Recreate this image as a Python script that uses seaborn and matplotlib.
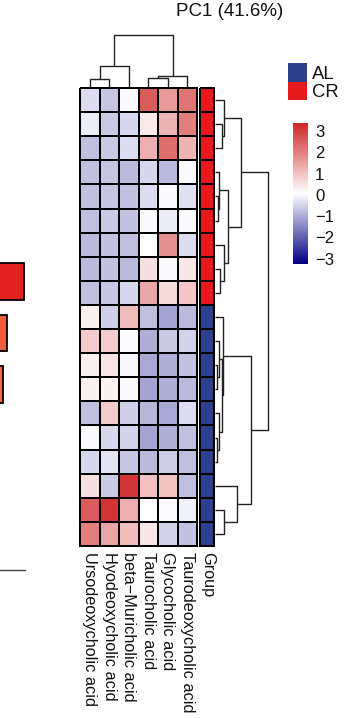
import numpy as np
import pandas as pd
import matplotlib
matplotlib.use("Agg")
import matplotlib.pyplot as plt
import seaborn as sns
from matplotlib.colors import LinearSegmentedColormap, ListedColormap

# ---------------- data ----------------
compounds = ["Ursodeoxycholic acid", "Hyodeoxycholic acid", "beta\u2212Muricholic acid",
             "Taurocholic acid", "Glycocholic acid", "Taurodeoxycholic acid"]

ursodeoxycholic = [-0.39, -0.17, -0.77, -0.77, -0.77, -0.77, -0.83, -0.83, -0.77, 0.33,
                   0.88, 0.33, 0.33, -0.77, 0.02, -0.44, 0.55, 2.59, 2.04]
hyodeoxycholic = [-0.66, -0.61, -0.61, -0.66, -0.66, -0.61, -0.72, -0.72, -0.66, -0.55,
                  0.88, 0.50, 0.28, 0.88, -0.44, -0.28, -0.61, 3.19, 1.43]
beta_muricholic = [0.02, -0.44, -0.39, -0.83, -0.72, -0.72, -0.77, -0.83, -0.44, 1.10,
                   0.03, -0.02, 0.01, -0.55, -0.50, -0.66, 3.19, 1.32, 1.10]
taurocholic = [2.59, 0.39, 1.32, -0.44, -0.39, 0.02, 0.06, 0.55, 1.43, -0.77,
               -0.99, -1.05, -1.10, -0.88, -1.10, -0.83, 1.05, 0.11, 0.44]
glycocholic = [1.60, 1.21, 2.31, -0.83, 0.01, -0.17, 1.76, 0.02, 0.66, -1.10,
               -0.61, -0.99, -0.99, -1.05, -0.99, -0.55, 0.99, 0.03, -0.50]
taurodeoxycholic = [2.20, 2.04, 1.21, 0.02, -0.33, 0.01, -0.39, 0.44, 0.94, -0.83,
                    -0.50, -0.72, -0.83, -0.39, -0.77, -0.77, -0.77, -0.11, -0.72]

group = ["CR"] * 9 + ["AL"] * 10
group_levels = ["AL", "CR"]
group_colors = ["#2E3F8E", "#E41A1C"]
heat_colors = ["#000080", "#FFFFFF", "#CD2626"]
value_range = (-3.25, 3.4)
cbar_ticks = [3, 2, 1, 0, -1, -2, -3]
title = "PC1 (41.6%)"

# dendrograms: (merge height, left, right); ints are leaf positions
col_tree = (53.0, (22.0, (9.0, 0, 1), 2), (12.3, (9.7, 3, 4), 5))
red_tree = (26.0, (9.3, 0, (7.0, 1, 2)), (12.7, (4.0, 3, (2.5, 4, 5)), (9.3, 6, (5.0, 7, 8))))
blue_tree = (35.7, (8.3, 9, (6.5, (4.0, 10, (2.0, 11, 12)), (3.5, 13, (2.0, 14, 15)))),
             (21.7, 16, (9.3, 17, 18)))
row_tree = (53.3, red_tree, blue_tree)

# partially visible bars of a neighbouring panel
bar_names = ["b1", "b2", "b3"]
bar_values = [4.98, 4.56, 4.46]
bar_colors = ["#E3211E", "#E9603D", "#E66B48"]

# ---------------- figure ----------------
sns.set_style("white")
plt.rcParams["font.family"] = ["Liberation Sans", "DejaVu Sans"]
plt.rcParams["text.color"] = "#111111"

W, H = 355, 718
fig = plt.figure(figsize=(W / 100, H / 100), dpi=100)


def px_axes(x0, y0, x1, y1):
    return fig.add_axes([x0 / W, 1 - y1 / H, (x1 - x0) / W, (y1 - y0) / H])


cmap = LinearSegmentedColormap.from_list("nwf", heat_colors, N=256)

# main heatmap
mat = pd.DataFrame({c: v for c, v in zip(compounds,
                    [ursodeoxycholic, hyodeoxycholic, beta_muricholic,
                     taurocholic, glycocholic, taurodeoxycholic])})
ax_hm = px_axes(80, 88, 197, 546)
sns.heatmap(mat, ax=ax_hm, cmap=cmap, vmin=value_range[0], vmax=value_range[1],
            cbar=False, linewidths=1.3, linecolor="black",
            xticklabels=compounds, yticklabels=False)
ax_hm.collections[0].set_clip_on(False)
ax_hm.set_xticklabels(compounds, rotation=270, ha="center", va="top",
                      fontsize=11.7, color="#111111")
ax_hm.tick_params(axis="x", length=0, pad=4)
ax_hm.set_xlabel("")
ax_hm.set_ylabel("")

# group annotation column
gcodes = pd.DataFrame({"Group": [group_levels.index(g) for g in group]})
ax_g = px_axes(200, 88, 214.3, 546)
sns.heatmap(gcodes, ax=ax_g, cmap=ListedColormap(group_colors), vmin=-0.5, vmax=1.5,
            cbar=False, linewidths=1.3, linecolor="black",
            xticklabels=["Group"], yticklabels=False)
ax_g.collections[0].set_clip_on(False)
ax_g.set_xticklabels(["Group"], rotation=270, ha="center", va="top",
                     fontsize=11.7, color="#111111")
ax_g.tick_params(axis="x", length=0, pad=4)


def draw_tree(ax, node, orient):
    if isinstance(node, int):
        return node + 0.5, 0.0
    h, a, b = node
    pa, ha = draw_tree(ax, a, orient)
    pb, hb = draw_tree(ax, b, orient)
    pos = [pa, pa, pb, pb]
    hs = [ha, h, h, hb]
    if orient == "top":
        ax.plot(pos, hs, color="#222222", lw=1.0, clip_on=False, solid_capstyle="butt")
    else:
        ax.plot(hs, pos, color="#222222", lw=1.0, clip_on=False, solid_capstyle="butt")
    return (pa + pb) / 2, h


ax_top = px_axes(80, 30, 197, 88)
draw_tree(ax_top, col_tree, "top")
ax_top.set_xlim(0, len(compounds))
ax_top.set_ylim(0, 58)
ax_top.axis("off")

ax_right = px_axes(215, 88, 275, 546)
draw_tree(ax_right, row_tree, "right")
ax_right.set_ylim(len(group), 0)
ax_right.set_xlim(0, 60)
ax_right.axis("off")

# group legend
ax_leg = px_axes(288.3, 63.3, 306.7, 100)
sns.heatmap(pd.DataFrame({"g": [0, 1]}), ax=ax_leg, cmap=ListedColormap(group_colors),
            vmin=-0.5, vmax=1.5, cbar=False, xticklabels=False, yticklabels=group_levels)
ax_leg.yaxis.tick_right()
ax_leg.set_yticklabels(group_levels, rotation=0, fontsize=13.3, color="#111111")
ax_leg.tick_params(axis="y", length=0, pad=4)
ax_leg.set_xlabel("")
ax_leg.set_ylabel("")

# colour scale
ax_cb = px_axes(292.7, 122.7, 308.3, 264)
sm = plt.cm.ScalarMappable(norm=plt.Normalize(*value_range), cmap=cmap)
cb = fig.colorbar(sm, cax=ax_cb, ticks=cbar_ticks)
cb.outline.set_visible(False)
ax_cb.tick_params(length=0, pad=5, labelsize=12, labelcolor="#111111")

# title
fig.text(229.5 / W, 1 - 12 / H, title, ha="center", va="center", fontsize=13.5,
         color="#111111")

# cropped neighbouring bar panel
ax_bar = px_axes(-175, 256, 25, 570)
sns.barplot(x=bar_values, y=bar_names, hue=bar_names, palette=bar_colors, legend=False,
            orient="h", width=0.71, edgecolor="black", linewidth=1.3, ax=ax_bar,
            saturation=1)
ax_bar.set_xlim(0, 5)
ax_bar.set_ylim(5.6, -0.5)
for s in ["top", "right", "left"]:
    ax_bar.spines[s].set_visible(False)
ax_bar.spines["bottom"].set_color("#444444")
ax_bar.spines["bottom"].set_linewidth(1.0)
ax_bar.set_xticks([])
ax_bar.set_yticks([])
ax_bar.set_xlabel("")
ax_bar.set_ylabel("")

fig.savefig("out.png", dpi=100)
